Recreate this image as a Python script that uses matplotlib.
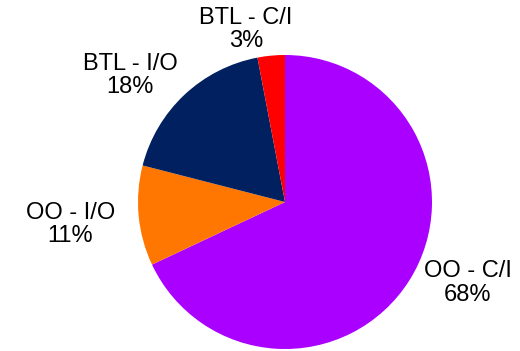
import matplotlib.pyplot as plt
import numpy as np

# udziały poszczególnych kategorii
labels = ["OO - C/I", "OO - I/O", "BTL - I/O", "BTL - C/I"]
shares = [68, 11, 18, 3]
colors = ["#aa00ff", "#ff7700", "#002060", "#ff0000"]

# odsunięcie etykiet od środka (w promieniach) i korekta kąta w stopniach
label_dist = [1.36, 1.47, 1.36, 1.20]
label_turn = [8.5, 0.7, 7.5, 7.4]

plt.rcParams['font.family'] = ['Liberation Sans', 'DejaVu Sans']

fig = plt.figure(figsize=(5.2, 3.51), dpi=100)
ax = fig.add_axes([0, 0, 1, 1])

wedges, _ = ax.pie(shares, colors=colors, startangle=90, counterclock=False,
                   radius=1.0, wedgeprops=dict(linewidth=0))

for w, name, val, d, t in zip(wedges, labels, shares, label_dist, label_turn):
    ang = np.deg2rad((w.theta1 + w.theta2) / 2 + t)
    ax.text(d * np.cos(ang), d * np.sin(ang), f"{name}\n{val}%",
            ha="center", va="center", fontsize=17, linespacing=1.06)

ax.set_xlim(-285 / 147, 235 / 147)
ax.set_ylim(-149 / 147, 202 / 147)
ax.set_aspect("auto")
ax.axis("off")

fig.savefig("out.png", dpi=100)
